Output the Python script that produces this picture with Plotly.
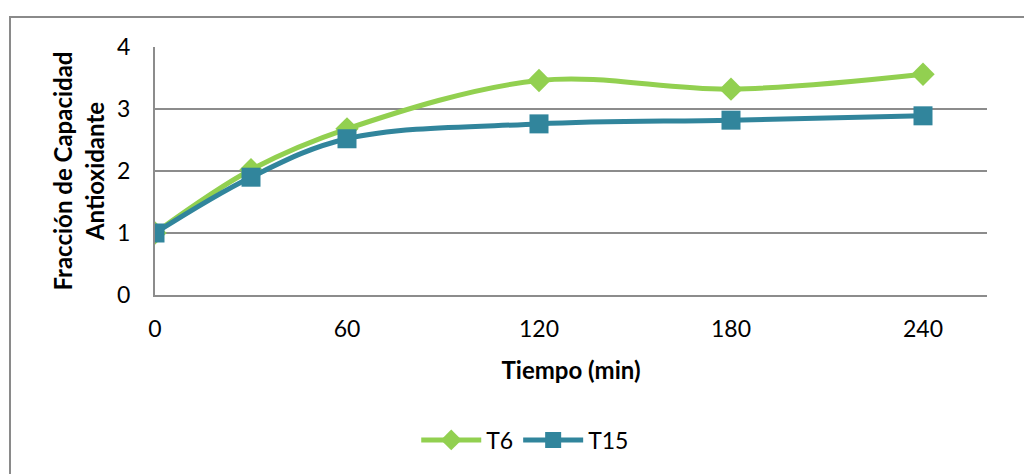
import plotly.graph_objects as go

# Sampling times (min) and antioxidant capacity fraction per treatment
tiempo = [0, 30, 60, 120, 180, 240]
t6 = [1.0, 2.02, 2.68, 3.46, 3.32, 3.56]
t15 = [1.0, 1.90, 2.52, 2.76, 2.82, 2.89]
x_ticks = [0, 60, 120, 180, 240]
y_ticks = [0, 1, 2, 3, 4]

GREEN = "#92D050"
TEAL = "#31859C"
GRID = "#8C8C8C"
FONT = "Lato, 'Open Sans', sans-serif"

W, H = 1024, 474
L, R, T, B = 155, 37, 47, 179
pw, ph = W - L - R, H - T - B

fig = go.Figure()
fig.add_trace(go.Scatter(
    x=tiempo, y=t6, name="T6", mode="lines+markers",
    line=dict(color=GREEN, width=5, shape="spline", smoothing=1.0),
    marker=dict(symbol="diamond", size=18, color=GREEN),
))
fig.add_trace(go.Scatter(
    x=tiempo, y=t15, name="T15", mode="lines+markers",
    line=dict(color=TEAL, width=5, shape="spline", smoothing=1.0),
    marker=dict(symbol="square", size=19, color=TEAL),
))

# Outer chart frame (left and top edges visible in the window)
def px_x(p):
    return (p - L) / pw

def px_y(p):
    return (H - B - p) / ph

fig.add_shape(type="rect", xref="paper", yref="paper",
              x0=px_x(10), x1=px_x(1060), y0=px_y(520), y1=px_y(17),
              line=dict(color="#8A8A8A", width=2), fillcolor="rgba(0,0,0,0)",
              layer="below")

fig.update_layout(
    width=W, height=H,
    margin=dict(l=L, r=R, t=T, b=B),
    paper_bgcolor="white", plot_bgcolor="white",
    font=dict(family=FONT, size=22, color="#000000"),
    showlegend=True,
    legend=dict(orientation="h", x=0.445, xanchor="center", y=px_y(440), yanchor="middle",
                font=dict(size=23), itemwidth=60, traceorder="normal"),
    xaxis=dict(
        range=[0, 260], tickvals=x_ticks, ticktext=[str(v) for v in x_ticks],
        showgrid=False, zeroline=False, showline=True, linecolor=GRID, linewidth=2,
        ticks="", ticklabelstandoff=12, tickfont=dict(size=23),
        title=dict(text="<b>Tiempo (min)</b>", font=dict(size=24), standoff=22),
    ),
    yaxis=dict(
        range=[0, 4], tickvals=y_ticks, ticktext=[str(v) for v in y_ticks],
        showgrid=True, gridcolor=GRID, gridwidth=2, zeroline=False,
        showline=True, linecolor=GRID, linewidth=2, ticks="", ticklabelstandoff=18,
        tickfont=dict(size=23),
        title=dict(text="<b>Fracción de Capacidad<br>Antioxidante</b>", font=dict(size=24),
                   standoff=6),
    ),
)

fig.write_html("out.html")
